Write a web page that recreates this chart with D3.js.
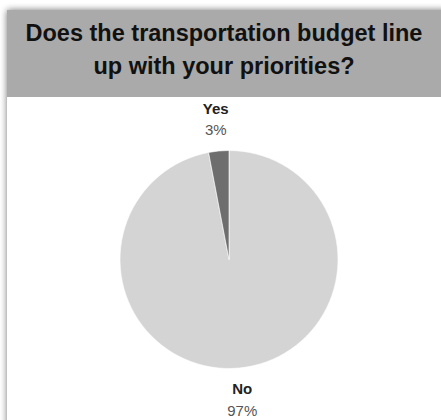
<!DOCTYPE html>
<html>
<head>
<meta charset="utf-8">
<script src="https://cdn.jsdelivr.net/npm/d3@7"></script>
<style>
html,body{margin:0;padding:0;background:#fff;overflow:hidden;}
svg{display:block;}
</style>
</head>
<body>
<svg id="chart" width="441" height="420"></svg>
<script>
const titleLines = ["Does the transportation budget line", "up with your priorities?"];
const categories = ["No", "Yes"];
const values = [97, 3];
const percentLabels = ["97%", "3%"];
const colors = ["#d4d4d4", "#6e6e6e"];

const W = 441, H = 420;
const svg = d3.select("#chart");

const defs = svg.append("defs");
const f = defs.append("filter").attr("id", "shadow")
  .attr("x", "-10%").attr("y", "-10%").attr("width", "120%").attr("height", "120%");
f.append("feGaussianBlur").attr("in", "SourceAlpha").attr("stdDeviation", 3.5).attr("result", "b");
f.append("feComponentTransfer").attr("in", "b").attr("result", "s")
  .append("feFuncA").attr("type", "linear").attr("slope", 0.55);
const m = f.append("feMerge");
m.append("feMergeNode").attr("in", "s");
m.append("feMergeNode").attr("in", "SourceGraphic");

const card = { x: 7, y: 10, w: 440, h: 420 };
svg.append("rect").attr("x", card.x).attr("y", card.y).attr("width", card.w).attr("height", card.h)
  .attr("fill", "#fff").attr("filter", "url(#shadow)");
svg.append("rect").attr("x", card.x).attr("y", card.y).attr("width", card.w).attr("height", 87)
  .attr("fill", "#aaaaaa");

const titleX = (card.x + W) / 2;
svg.append("g").selectAll("text").data(titleLines).join("text")
  .attr("x", titleX).attr("y", (d, i) => 41 + i * 33)
  .attr("text-anchor", "middle")
  .attr("font-family", "Liberation Sans, Arial, sans-serif")
  .attr("font-weight", "bold").attr("font-size", 23.5)
  .attr("fill", "#111")
  .text(d => d);

const cx = 229, cy = 259.5, r = 109;
const pie = d3.pie().sort(null).value(d => d.v);
const data = categories.map((c, i) => ({ c, v: values[i], p: percentLabels[i], col: colors[i] }));
const arcs = pie(data);
const arc = d3.arc().innerRadius(0).outerRadius(r);
const labelArc = d3.arc().innerRadius(141).outerRadius(141);

const g = svg.append("g").attr("transform", `translate(${cx},${cy})`);
g.selectAll("path").data(arcs).join("path")
  .attr("d", arc)
  .attr("fill", d => d.data.col)
  .attr("stroke", "#fff").attr("stroke-width", 0.6);

const lg = g.append("g").attr("font-family", "Liberation Sans, Arial, sans-serif").attr("text-anchor", "middle");
arcs.forEach(a => {
  const [lx, ly] = labelArc.centroid(a);
  lg.append("text").attr("x", lx).attr("y", ly - 5.5)
    .attr("font-weight", "bold").attr("font-size", 15).attr("fill", "#222").text(a.data.c);
  lg.append("text").attr("x", lx).attr("y", ly + 16)
    .attr("font-size", 15).attr("fill", "#555").text(a.data.p);
});
</script>
</body>
</html>
